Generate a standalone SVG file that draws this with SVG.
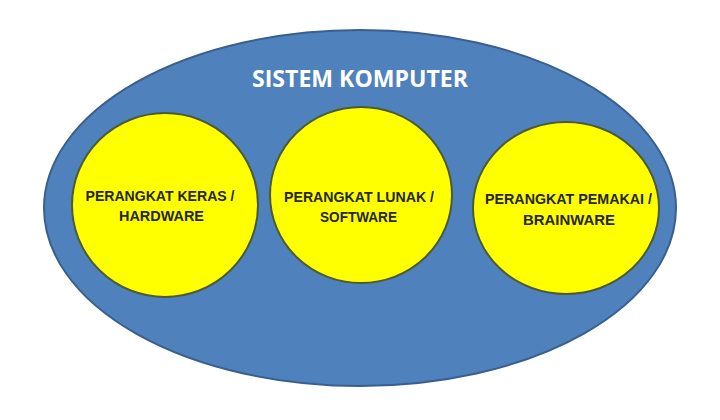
<svg xmlns="http://www.w3.org/2000/svg" width="720" height="420" viewBox="0 0 720 420">
<style>
.outer{fill:#4F81BD;stroke:#3A5F8C;stroke-width:2}
.sub{fill:#FFFF00;stroke:#4A5A3A;stroke-width:2}
.title{font-family:"Open Sans","Liberation Sans",sans-serif;font-weight:bold;font-size:23px;fill:#FFFFFF;text-anchor:middle}
.lbl{font-family:"Liberation Sans","Open Sans",sans-serif;font-weight:bold;font-size:15px;fill:#262626;text-anchor:middle}
</style>
<rect width="720" height="420" fill="#FFFFFF"/>
<g id="sistem-komputer">
<ellipse class="outer" cx="360" cy="208" rx="316" ry="178"/>
<text class="title" x="360" y="87" textLength="216" lengthAdjust="spacingAndGlyphs">SISTEM KOMPUTER</text>
</g>
<g id="hardware">
<ellipse class="sub" cx="165" cy="205" rx="93" ry="92"/>
<text class="lbl" x="160" y="201" textLength="149" lengthAdjust="spacingAndGlyphs">PERANGKAT KERAS /</text>
<text class="lbl" x="161.5" y="221" textLength="85" lengthAdjust="spacingAndGlyphs">HARDWARE</text>
</g>
<g id="software">
<ellipse class="sub" cx="361" cy="195" rx="91" ry="88"/>
<text class="lbl" x="359" y="202" textLength="150" lengthAdjust="spacingAndGlyphs">PERANGKAT LUNAK /</text>
<text class="lbl" x="358.5" y="222" textLength="77" lengthAdjust="spacingAndGlyphs">SOFTWARE</text>
</g>
<g id="brainware">
<ellipse class="sub" cx="566" cy="208" rx="93" ry="86"/>
<text class="lbl" x="568.5" y="204" textLength="167" lengthAdjust="spacingAndGlyphs">PERANGKAT PEMAKAI /</text>
<text class="lbl" x="569" y="225" textLength="92" lengthAdjust="spacingAndGlyphs">BRAINWARE</text>
</g>
<g id="connectors"/>
</svg>
